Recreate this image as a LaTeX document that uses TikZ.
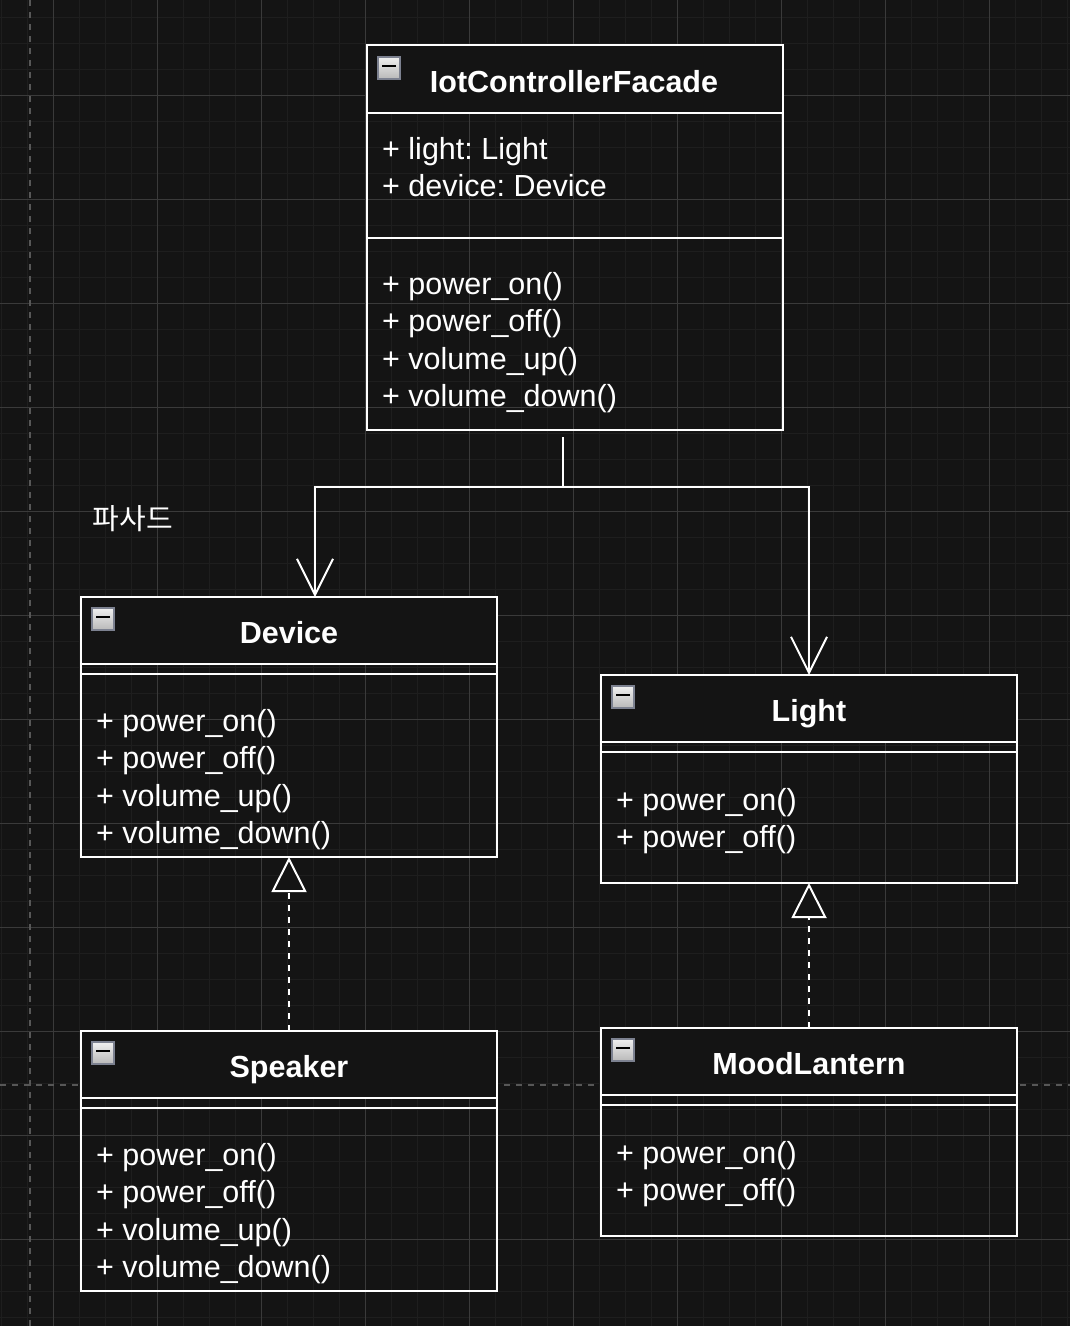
\documentclass[tikz,border=0pt]{standalone}
\usepackage{fontspec}
\setmainfont{Liberation Sans}
\newfontfamily\krfont{Noto Sans CJK KR}
\usetikzlibrary{arrows.meta}
\frenchspacing
\definecolor{bgc}{HTML}{141414}
\definecolor{minorgrid}{HTML}{1E1E1E}
\definecolor{majorgrid}{HTML}{3A3A3A}
\definecolor{guide}{HTML}{575757}
\definecolor{iconedge}{HTML}{7C8190}
\tikzset{
  head/.style={draw=white, line width=2pt, fill=bgc, anchor=north west, minimum width=416pt, inner sep=0pt, outer sep=0pt},
  body/.style={draw=white, line width=2pt, anchor=north west, minimum width=416pt, inner sep=0pt, outer sep=0pt},
  icon/.style={draw=iconedge, line width=1.5pt, top color=gray!12, bottom color=gray!55, anchor=north west, minimum size=22pt, inner sep=0pt, outer sep=0pt},
  title/.style={text=white, anchor=base, inner sep=0pt, font=\fontsize{30.5}{36}\selectfont\bfseries},
  member/.style={text=white, anchor=base west, inner sep=0pt, font=\fontsize{30.5}{36}\selectfont},
  assoc/.style={white, line width=2pt, -{Straight Barb[length=36pt,width=36pt]}},
  realize/.style={white, line width=2pt, dash pattern=on 6pt off 6pt, -{Triangle[fill=bgc,length=35pt,width=35pt]}}
}
\begin{document}
\begin{tikzpicture}[x=1pt, y=-1pt]
            \useasboundingbox (0,0) rectangle (1070,1326);
            \fill[bgc] (0,0) rectangle (1070,1326);
            % grid
            \foreach \gx in {1.3,27.3,...,1070} \draw[minorgrid, line width=1.2pt] (\gx,0) -- (\gx,1326);
            \foreach \gy in {17.3,43.3,...,1326} \draw[minorgrid, line width=1.2pt] (0,\gy) -- (1070,\gy);
            \foreach \gx in {53.3,157.3,...,1070} \draw[majorgrid, line width=1pt] (\gx,0) -- (\gx,1326);
            \foreach \gy in {95.3,199.3,...,1326} \draw[majorgrid, line width=1pt] (0,\gy) -- (1070,\gy);
            \draw[guide, line width=1.5pt, dash pattern=on 6pt off 6pt] (30,0) -- (30,1326);
            \draw[guide, line width=1.5pt, dash pattern=on 6pt off 6pt] (0,1085) -- (1070,1085);
            % IotControllerFacade
            \node[head, minimum height=68pt] (facade) at (367,45) {};
            \node[body, minimum height=317pt] (facadebody) at (facade.south west) {};
            \draw[white, line width=2pt] (367,238) -- (783,238);
            \node[icon] (facadeicon) at (378,57) {};
            \draw[black, line width=2.5pt] ([xshift=4pt,yshift=-9pt]facadeicon.north west) -- ++(14,0);
            \node[title] (facadetitle) at (574,92) {IotControllerFacade};
            \node[member] (facadea1) at (382,159) {+ light: Light};
            \node[member] (facadea2) at (382,196.7) {+ device: Device};
            \node[member] (facadem1) at (382,294) {+ power\_on()};
            \node[member] (facadem2) at (382,331.6) {+ power\_off()};
            \node[member] (facadem3) at (382,369.2) {+ volume\_up()};
            \node[member] (facadem4) at (382,406.8) {+ volume\_down()};
            % Device
            \node[head, minimum height=67pt] (device) at (81,597) {};
            \node[body, minimum height=193pt] (devicebody) at (device.south west) {};
            \draw[white, line width=2pt] (81,674) -- (497,674);
            \node[icon] (deviceicon) at (92,608) {};
            \draw[black, line width=2.5pt] ([xshift=4pt,yshift=-9pt]deviceicon.north west) -- ++(14,0);
            \node[title] (devicetitle) at (289,643) {Device};
            \node[member] (devicem1) at (96,731) {+ power\_on()};
            \node[member] (devicem2) at (96,768.6) {+ power\_off()};
            \node[member] (devicem3) at (96,806.2) {+ volume\_up()};
            \node[member] (devicem4) at (96,843.8) {+ volume\_down()};
            % Light
            \node[head, minimum height=67pt] (light) at (601,675) {};
            \node[body, minimum height=141pt] (lightbody) at (light.south west) {};
            \draw[white, line width=2pt] (601,752) -- (1017,752);
            \node[icon] (lighticon) at (612,686) {};
            \draw[black, line width=2.5pt] ([xshift=4pt,yshift=-9pt]lighticon.north west) -- ++(14,0);
            \node[title] (lighttitle) at (809,721) {Light};
            \node[member] (lightm1) at (616,810) {+ power\_on()};
            \node[member] (lightm2) at (616,847.6) {+ power\_off()};
            % Speaker
            \node[head, minimum height=67pt] (speaker) at (81,1031) {};
            \node[body, minimum height=193pt] (speakerbody) at (speaker.south west) {};
            \draw[white, line width=2pt] (81,1108) -- (497,1108);
            \node[icon] (speakericon) at (92,1042) {};
            \draw[black, line width=2.5pt] ([xshift=4pt,yshift=-9pt]speakericon.north west) -- ++(14,0);
            \node[title] (speakertitle) at (289,1077) {Speaker};
            \node[member] (speakerm1) at (96,1165) {+ power\_on()};
            \node[member] (speakerm2) at (96,1202.6) {+ power\_off()};
            \node[member] (speakerm3) at (96,1240.2) {+ volume\_up()};
            \node[member] (speakerm4) at (96,1277.8) {+ volume\_down()};
            % MoodLantern
            \node[head, minimum height=67pt] (lantern) at (601,1028) {};
            \node[body, minimum height=141pt] (lanternbody) at (lantern.south west) {};
            \draw[white, line width=2pt] (601,1105) -- (1017,1105);
            \node[icon] (lanternicon) at (612,1039) {};
            \draw[black, line width=2.5pt] ([xshift=4pt,yshift=-9pt]lanternicon.north west) -- ++(14,0);
            \node[title] (lanterntitle) at (809,1074) {MoodLantern};
            \node[member] (lanternm1) at (616,1163) {+ power\_on()};
            \node[member] (lanternm2) at (616,1200.6) {+ power\_off()};
            % label
            \node[text=white, font=\krfont\fontsize{29}{34}\selectfont] (facadelabel) at (133,519) {파사드};
            % connectors
            \draw[white, line width=2pt] ([xshift=-12pt,yshift=-7pt]facadebody.south) -- ++(0,50) coordinate (fork);
            \draw[assoc] (fork) -| ([xshift=26pt]device.north);
            \draw[assoc] (fork) -| (light.north);
            \draw[realize] (speaker.north) -- (devicebody.south);
            \draw[realize] (lantern.north) -- (lightbody.south);
        \end{tikzpicture}
\end{document}
